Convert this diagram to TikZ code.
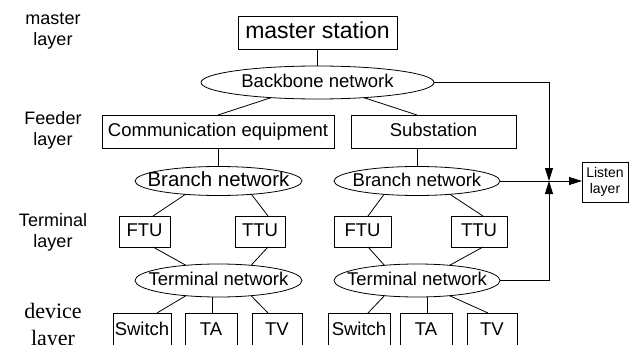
\documentclass[tikz,border=0pt]{standalone}
\usepackage{fontspec}
\setmainfont{Liberation Sans}
\newfontfamily\timesfont{Liberation Serif}
\usetikzlibrary{shapes.geometric,arrows.meta}
\begin{document}
\begin{tikzpicture}[x=1pt,y=-1pt,
  every node/.style={inner sep=0pt, outer sep=0pt},
  txt/.style={font=\fontsize{18.5}{22}\selectfont, text height=13.9pt, text depth=3.7pt},
  box/.style={draw, rectangle, line width=0.8pt, txt},
  ell/.style={draw, ellipse, line width=0.8pt, txt},
  lbl/.style={anchor=base, font=\fontsize{18}{21}\selectfont},
  conn/.style={line width=0.8pt},
  arr/.style={line width=0.8pt, -{Triangle[length=13pt,width=8pt]}}
]
\clip (0,0) rectangle (632,345);
\fill[white] (0,0) rectangle (632,345);

% left layer labels
\node[lbl] (m1) at (53,25) {master};
\node[lbl] (m2) at (53,46) {layer};
\node[lbl] (f1) at (53,124) {Feeder};
\node[lbl] (f2) at (53,145) {layer};
\node[lbl] (t1) at (53,226) {Terminal};
\node[lbl] (t2) at (53,247) {layer};
\node[lbl, font=\timesfont\fontsize{22}{26}\selectfont] (d1) at (53,318) {device};
\node[lbl, font=\timesfont\fontsize{22}{26}\selectfont] (d2) at (53,345) {layer};

% main nodes
\node[box, minimum width=159pt, minimum height=33pt, font=\fontsize{23}{27}\selectfont, text height=17.2pt, text depth=4.6pt] (ms) at (317.5,32.5) {master station};
\node[ell, minimum width=233pt, minimum height=33pt] (bb) at (317.5,82.5) {\makebox[0pt]{Backbone network}};
\node[box, minimum width=232pt, minimum height=33pt] (comm) at (218,131.5) {Communication equipment};
\node[box, minimum width=165pt, minimum height=33pt] (sub) at (433.5,131.5) {Substation};

\node[ell, minimum width=167pt, minimum height=29pt, font=\fontsize{20.4}{24}\selectfont, text height=15.3pt, text depth=4.1pt] (br1) at (218.5,181) {\makebox[0pt]{Branch network}};
\node[ell, minimum width=166pt, minimum height=29pt] (br2) at (417,181) {\makebox[0pt]{Branch network}};

\node[box, minimum width=51pt, minimum height=31pt] (ftu1) at (144.5,231.5) {FTU};
\node[box, minimum width=50pt, minimum height=31pt] (ttu1) at (260,231.5) {TTU};
\node[box, minimum width=57pt, minimum height=31pt] (ftu2) at (362.5,231.5) {FTU};
\node[box, minimum width=56pt, minimum height=31pt] (ttu2) at (479,231.5) {TTU};

\node[ell, minimum width=167pt, minimum height=33pt] (term1) at (218.5,280.5) {\makebox[0pt]{Terminal network}};
\node[ell, minimum width=166pt, minimum height=33pt] (term2) at (417,280.5) {\makebox[0pt]{Terminal network}};

\node[box, minimum width=58pt, minimum height=34pt] (sw1) at (142,330) {Switch};
\node[box, minimum width=52pt, minimum height=34pt] (ta1) at (211,330) {TA};
\node[box, minimum width=50pt, minimum height=34pt] (tv1) at (277,330) {TV};
\node[box, minimum width=62pt, minimum height=34pt] (sw2) at (359,330) {Switch};
\node[box, minimum width=52pt, minimum height=34pt] (ta2) at (426,330) {TA};
\node[box, minimum width=50pt, minimum height=34pt] (tv2) at (492,330) {TV};

\node[draw, line width=0.8pt, minimum width=46pt, minimum height=40pt, align=center, font=\fontsize{14}{16}\selectfont] (listen) at (605,182) {Listen\\layer};

% connectors
\draw[conn] (ms) -- (bb);
\draw[conn] (comm.north) -- (bb);
\draw[conn] (sub.north -| br2) -- (bb);
\draw[conn] (comm.south) -- (comm.south |- br1.north);
\draw[conn] (sub.south -| br2) -- (br2.north);

\draw[conn] ([xshift=8.5pt]ftu1.north) -- (br1.202);
\draw[conn] ([xshift=8pt]ttu1.north) -- (br1.338);
\draw[conn] ([xshift=8.5pt]ftu1.south) -- (term1.155);
\draw[conn] ([xshift=8pt]ttu1.south) -- (term1.25);

\draw[conn] ([xshift=5.5pt]ftu2.north) -- (br2.202);
\draw[conn] ([xshift=4pt]ttu2.north) -- (br2.338);
\draw[conn] ([xshift=5.5pt]ftu2.south) -- (term2.155);
\draw[conn] ([xshift=4pt]ttu2.south) -- (term2.25);

\draw[conn] ([xshift=15pt]sw1.north) -- (term1.205);
\draw[conn] ([xshift=1pt]ta1.north) -- ([xshift=1pt]ta1.north |- term1.south);
\draw[conn] ([xshift=-9pt]tv1.north) -- (term1.335);
\draw[conn] ([xshift=9pt]sw2.north) -- (term2.205);
\draw[conn] ([xshift=1pt]ta2.north) -- ([xshift=1pt]ta2.north |- term2.south);
\draw[conn] ([xshift=-4pt]tv2.north) -- (term2.335);

% listen arrows
\coordinate (jn) at (549,181);
\draw[arr] (bb.east) -| (jn);
\draw[arr] (term2.east) -| (jn);
\draw[arr] (br2.east) -- (br2.east -| listen.west);
\end{tikzpicture}
\end{document}
